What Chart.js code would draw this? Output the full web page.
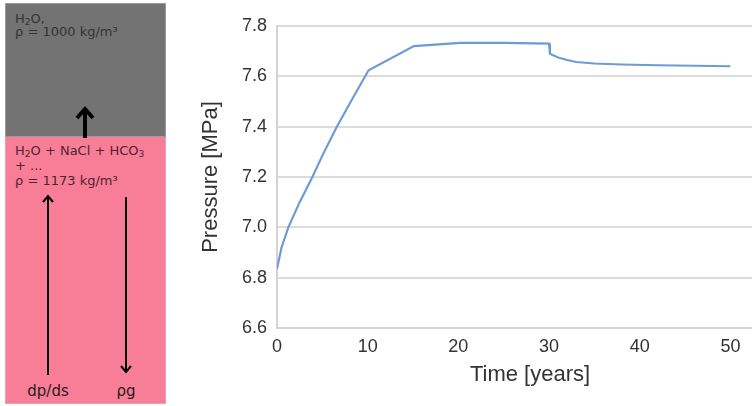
<!doctype html>
<html lang="en">
<head>
    <meta charset="utf-8">
    <title>Pressure over time</title>
    <script src="https://cdn.jsdelivr.net/npm/chart.js"></script>
    <style>
        html, body { margin: 0; padding: 0; background: #fff; overflow: hidden; width: 752px; height: 406px; }
        .box { position: absolute; box-sizing: border-box; }
        .gray { left: 5px; top: 3px; width: 161px; height: 134px; background: #737373; border: 1px solid #9a9a9a; }
        .pink { left: 5px; top: 137px; width: 161px; height: 267px; background: #f77e96; border: 1px solid #e9a0b0; border-top: none; }
        .txt { position: absolute; font-family: "DejaVu Sans", sans-serif; font-size: 13px; line-height: 15px; white-space: nowrap; }
        .txt sub { font-size: 9px; vertical-align: -2px; line-height: 0; }
        .dark { color: #333; }
        .wine { color: #4e2431; }
        .lbl { position: absolute; font-family: "DejaVu Sans", sans-serif; font-size: 15px; line-height: 18px; color: #2a1a1e; transform: translateX(-50%); white-space: nowrap; }
        #arrows { position: absolute; left: 0; top: 0; }
        #wrap { position: absolute; left: 180px; top: 0; width: 603px; height: 406px; }
    </style>
</head>
<body>
<div class="box gray"></div>
<div class="box pink"></div>
<div class="txt dark" style="left:15px;top:11px">H<sub>2</sub>O,</div>
<div class="txt dark" style="left:15px;top:24px">ρ = 1000 kg/m³</div>
<div class="txt wine" style="left:15px;top:143px">H<sub>2</sub>O + NaCl + HCO<sub>3</sub></div>
<div class="txt wine" style="left:15px;top:158px">+ ...</div>
<div class="txt wine" style="left:15px;top:173px">ρ = 1173 kg/m³</div>
<div class="lbl" style="left:48px;top:382px">dp/ds</div>
<div class="lbl" style="left:126px;top:382px">ρg</div>
<svg id="arrows" width="170" height="406">
    <g fill="none" stroke="#000" stroke-linecap="butt">
        <line x1="85" y1="138" x2="85" y2="109" stroke-width="4"/>
        <polyline points="77,118 85,109 93,118" stroke-width="4"/>
        <line x1="48" y1="375" x2="48" y2="196" stroke-width="2"/>
        <polyline points="43,202 48,196 53,202" stroke-width="2"/>
        <line x1="126" y1="197" x2="126" y2="372" stroke-width="2"/>
        <polyline points="121,366 126,372 131,366" stroke-width="2"/>
    </g>
</svg>
<div id="wrap"><canvas id="chart"></canvas></div>
<script>
    // values
    var years = [0, 0.5, 1.25, 2.5, 3.9, 5, 6.6, 8.3, 10.1, 15.1, 20.2, 25, 30, 30.1, 31, 32, 33, 35, 38, 42, 46, 50];
    var pressure = [6.835, 6.92, 7.0, 7.1, 7.2, 7.285, 7.4, 7.51, 7.624, 7.72, 7.733, 7.733, 7.73, 7.69, 7.675, 7.665, 7.657, 7.651, 7.647, 7.644, 7.642, 7.64];
    var xTicks = [0, 10, 20, 30, 40, 50];
    var yTicks = [6.6, 6.8, 7.0, 7.2, 7.4, 7.6, 7.8];

    var points = [];
    for (var i = 0; i < years.length; i++) {
        points.push({x: years[i], y: pressure[i]});
    }

    var tickFont = {family: 'Liberation Sans, Arial, sans-serif', size: 18};
    var titleFont = {family: 'Liberation Sans, Arial, sans-serif', size: 22};

    new Chart(document.getElementById('chart'), {
        type: 'line',
        data: {
            datasets: [{
                data: points,
                borderColor: '#6d9bd3',
                borderWidth: 2.2,
                pointRadius: 0,
                tension: 0,
                fill: false
            }]
        },
        options: {
            responsive: true,
            maintainAspectRatio: false,
            animation: false,
            layout: {padding: {top: 26, left: 0, right: 0, bottom: 0}},
            plugins: {
                legend: {display: false},
                tooltip: {enabled: false}
            },
            scales: {
                x: {
                    type: 'linear',
                    min: 0,
                    max: 55.8,
                    afterBuildTicks: function (s) {
                        s.ticks = xTicks.map(function (v) { return {value: v}; });
                    },
                    afterFit: function (s) { s.height = 78; },
                    grid: {display: false},
                    border: {display: true, color: '#d4d4d4', width: 2},
                    ticks: {padding: 0, maxRotation: 0, font: tickFont, color: '#333'},
                    title: {display: true, text: 'Time [years]', font: titleFont, color: '#333', padding: {bottom: 18}}
                },
                y: {
                    min: 6.6,
                    max: 7.8,
                    afterBuildTicks: function (s) {
                        s.ticks = yTicks.map(function (v) { return {value: v}; });
                    },
                    afterFit: function (s) { s.width = 97; },
                    grid: {color: '#dcdcdc', lineWidth: 2, drawTicks: false},
                    border: {display: true, color: '#d4d4d4', width: 2},
                    ticks: {
                        padding: 10, font: tickFont, color: '#333',
                        callback: function (v) { return v.toFixed(1); }
                    },
                    title: {display: true, text: 'Pressure [MPa]', font: titleFont, color: '#333', padding: {top: 18}}
                }
            }
        }
    });
</script>
</body>
</html>
